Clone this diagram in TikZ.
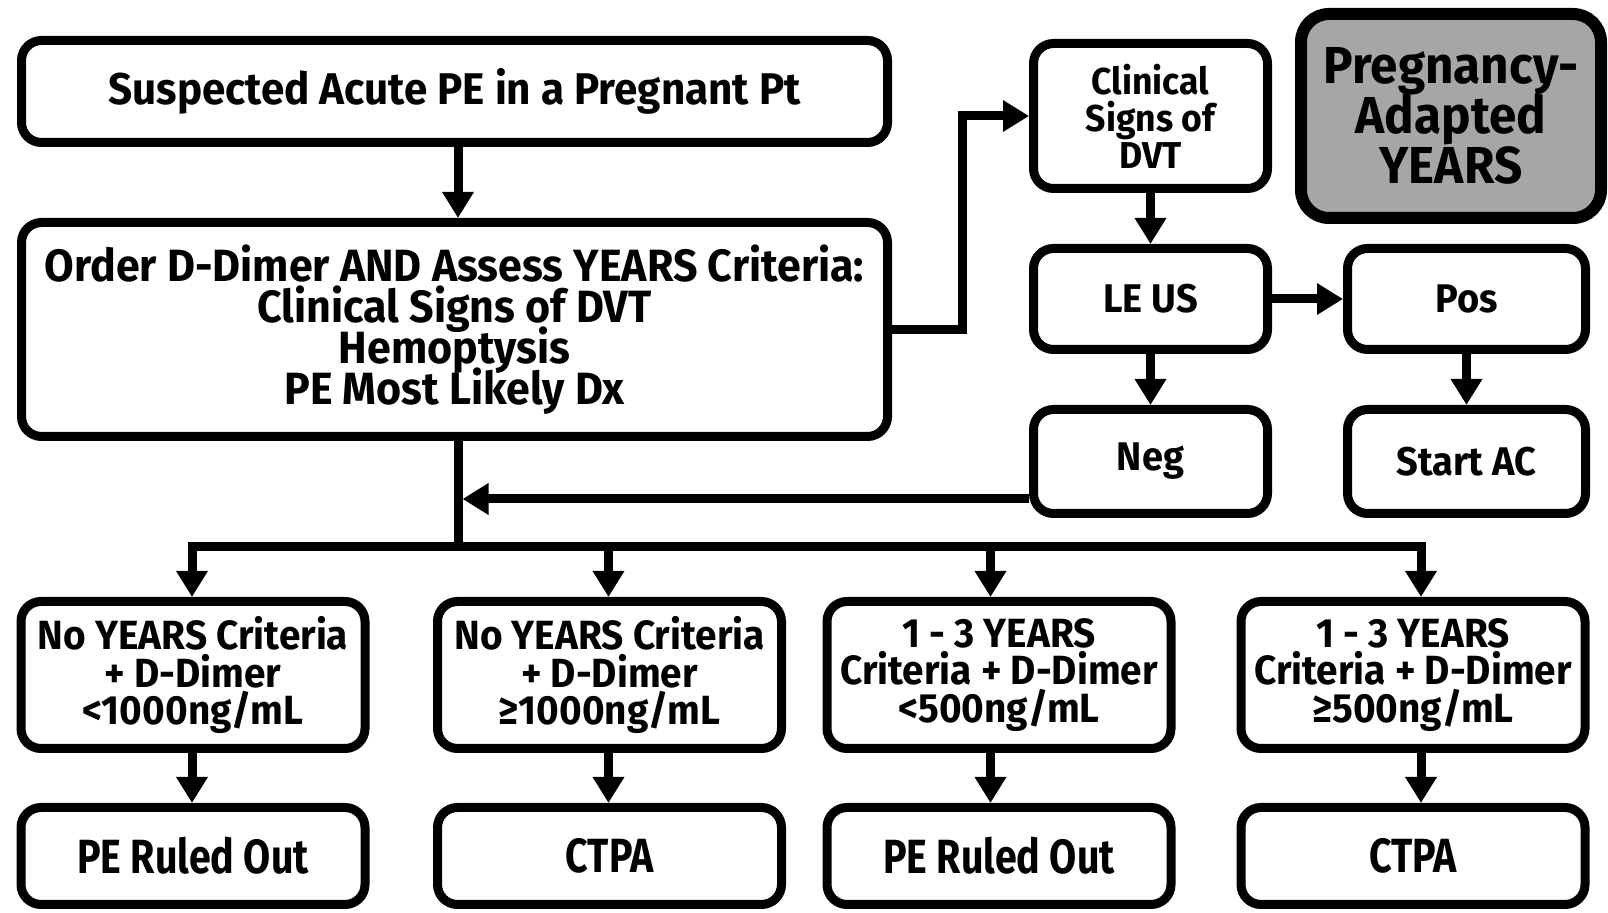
\documentclass[tikz,border=0pt]{standalone}
\usepackage{fontspec}
\setmainfont{Fira Sans}[FakeStretch=0.82]
\newfontfamily\widefont{Fira Sans}[FakeStretch=0.95]
\usetikzlibrary{arrows.meta,calc}
\definecolor{grayfill}{HTML}{A6A6A6}
\begin{document}
\lineskiplimit=-100pt
\begin{tikzpicture}[x=0.5pt,y=-0.5pt,
  box/.style={draw=black, line width=4.5pt, rounded corners=10pt, fill=white, align=center, inner sep=0pt},
  arr/.style={line width=4.5pt, -{Triangle[length=13pt,width=15pt]}},
  ln/.style={line width=4.5pt},
  tA/.style={font=\widefont\bfseries\fontsize{22.2}{24}\selectfont},
  tB/.style={font=\widefont\bfseries\fontsize{22.6}{20.5}\selectfont},
  tC/.style={font=\widefont\bfseries\fontsize{18.7}{18.5}\selectfont},
  tG/.style={font=\widefont\bfseries\fontsize{26}{25}\selectfont},
  tS/.style={font=\widefont\bfseries\fontsize{20}{22}\selectfont},
  tR/.style={font=\widefont\bfseries\fontsize{20.4}{18.8}\selectfont},
  tO/.style={font=\bfseries\fontsize{24}{26}\selectfont},
]
\useasboundingbox (0,0) rectangle (1608,913);
\fill[white] (0,0) rectangle (1608,913);

\node[box, tA, minimum width=433pt, minimum height=51pt] (A) at (454.5,91.5) {Suspected Acute PE in a Pregnant Pt};
\node[box, tB, minimum width=433pt, minimum height=107pt] (B) at (454.5,329.5) {Order D-Dimer AND Assess YEARS Criteria:\\Clinical Signs of DVT\\Hemoptysis\\PE Most Likely Dx};
\node[box, tC, minimum width=117pt, minimum height=72.5pt] (C) at (1150.5,116) {Clinical\\Signs of\\DVT};
\node[box, tG, fill=grayfill, line width=6pt, rounded corners=14pt, minimum width=150pt, minimum height=102pt] (G) at (1451,116) {Pregnancy-\\Adapted\\YEARS};
\node[box, tS, minimum width=117pt, minimum height=50.5pt] (D) at (1150.5,299) {LE US};
\node[box, tS, minimum width=119pt, minimum height=50.5pt] (E) at (1466.5,299) {Pos};
\node[box, tS, minimum width=117pt, minimum height=52pt] (F) at (1150.5,461.5) {Neg};
\node[box, tS, minimum width=119pt, minimum height=52pt] (H) at (1466.5,461.5) {Start AC};

\node[box, tR, minimum width=172pt, minimum height=73.5pt] (r1a) at (193,675) {No YEARS Criteria\\+ D-Dimer\\<1000ng/mL};
\node[box, tR, minimum width=172pt, minimum height=73.5pt] (r1b) at (609.5,675) {No YEARS Criteria\\+ D-Dimer\\≥1000ng/mL};
\node[box, tR, minimum width=172pt, minimum height=73.5pt] (r1c) at (999,675) {1 - 3 YEARS\\Criteria + D-Dimer\\<500ng/mL};
\node[box, tR, minimum width=172pt, minimum height=73.5pt] (r1d) at (1413,675) {1 - 3 YEARS\\Criteria + D-Dimer\\≥500ng/mL};

\node[box, tO, minimum width=172pt, minimum height=48.5pt] (r2a) at (193,856) {PE Ruled Out};
\node[box, tO, minimum width=172pt, minimum height=48.5pt] (r2b) at (609.5,856) {CTPA};
\node[box, tO, minimum width=172pt, minimum height=48.5pt] (r2c) at (999,856) {PE Ruled Out};
\node[box, tO, minimum width=172pt, minimum height=48.5pt] (r2d) at (1413,856) {CTPA};

\coordinate (tk) at (458,547);
\coordinate (el) at (962,200);
\coordinate (Fw) at ($(F.west)+(0,37.5)$);

\draw[arr] (A.south -| tk) -- (B.north -| tk);
\draw[arr] (B.east) -| (el) |- (C.west);
\draw[arr] (C.south) -- (D.north);
\draw[arr] (D.east) -- (E.west);
\draw[arr] (D.south) -- (F.north);
\draw[arr] (E.south) -- (H.north);
\draw[arr] (Fw) -- ($(Fw -| tk)+(4.5,0)$);
\draw[ln] (B.south -| tk) -- (tk);
\draw[ln, line cap=rect] ($(r1a.north |- tk)+(-1,0)$) -- ($(r1d.north |- tk)+(8,0)$);
\foreach \n/\o in {a/-1,b/-1,c/-8.5,d/8}{
  \draw[arr] ($(r1\n.north |- tk)+(\o,0)$) -- ($(r1\n.north)+(\o,0)$);
  \draw[arr] ($(r1\n.south)+(\o,0)$) -- ($(r2\n.north)+(\o,0)$);
}
\end{tikzpicture}
\end{document}
